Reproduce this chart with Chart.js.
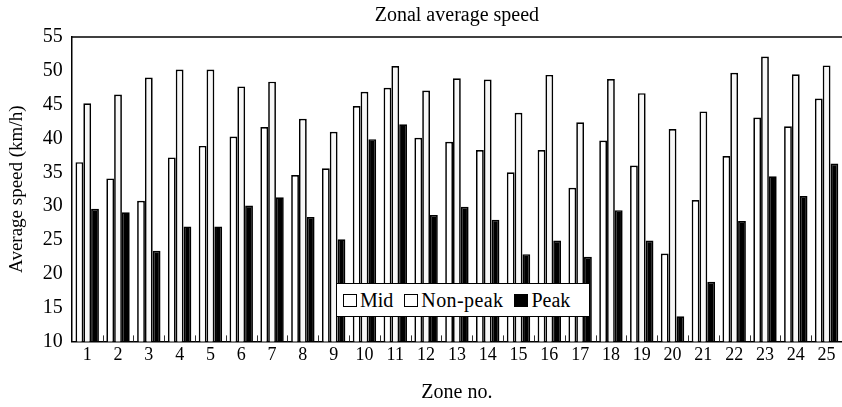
<!DOCTYPE html>
<html>
<head>
<meta charset="utf-8">
<script src="https://cdn.jsdelivr.net/npm/chart.js@4/dist/chart.umd.min.js"></script>
<style>
	html, body { margin: 0; padding: 0; background: #fff; }
	#wrap { position: relative; width: 842px; height: 407px; overflow: hidden; }
	#legendBox {
		position: absolute; left: 336px; top: 283px; width: 246px; height: 32px;
		background: #fff; border: 1.5px solid #000;
		font-family: "Liberation Serif", serif; font-size: 20px; color: #000;
		display: flex; align-items: center; padding-left: 6px; box-sizing: content-box; white-space: nowrap;
	}
	#legendBox span.sw { display: inline-block; width: 12px; height: 11px; border: 1.5px solid #000; margin-right: 3px; background: #fff; }
	#legendBox span.lb { margin-right: 11px; }
</style>
</head>
<body>
<div id="wrap">
	<canvas id="myChart" width="842" height="407"></canvas>
	<div id="legendBox"></div>
</div>
<script>
var zones = ['1','2','3','4','5','6','7','8','9','10','11','12','13','14','15','16','17','18','19','20','21','22','23','24','25'];
var midData = [36.5, 34.1, 30.8, 37.2, 38.9, 40.3, 41.7, 34.6, 35.6, 44.8, 47.5, 40.1, 39.5, 38.3, 35.0, 38.3, 32.7, 39.7, 36.0, 23.0, 30.9, 37.4, 43.1, 41.8, 45.9];
var nonPeakData = [45.2, 46.5, 49.0, 50.2, 50.2, 47.7, 48.4, 42.9, 41.0, 46.9, 50.7, 47.1, 48.9, 48.7, 43.8, 49.4, 42.4, 48.8, 46.7, 41.4, 44.0, 49.7, 52.1, 49.5, 50.8];
var peakData = [29.6, 29.1, 23.4, 27.0, 27.0, 30.1, 31.3, 28.4, 25.1, 39.9, 42.1, 28.7, 29.9, 28.0, 22.9, 24.9, 22.5, 29.4, 24.9, 13.7, 18.8, 27.8, 34.4, 31.5, 36.3];
var yTicks = [10, 15, 20, 25, 30, 35, 40, 45, 50, 55];
var seriesNames = ['Mid', 'Non-peak', 'Peak'];

var _font = '"Liberation Serif", "Times New Roman", serif';

// 안쪽 눈금, 위쪽 테두리
var framePlugin = {
	id: 'framePlugin',
	afterDraw: function(chart) {
		var ctx = chart.ctx;
		var area = chart.chartArea;
		var xs = chart.scales.x;
		ctx.save();
		ctx.strokeStyle = '#000';
		ctx.lineWidth = 1.5;
		ctx.beginPath();
		ctx.moveTo(area.left, area.top);
		ctx.lineTo(area.right, area.top);
		ctx.stroke();
		ctx.lineWidth = 1;
		ctx.strokeStyle = '#333';
		for (var i = 1; i < zones.length; i++) {
			var x = Math.round(xs.getPixelForValue(i - 0.5)) + 0.5;
			ctx.beginPath();
			ctx.moveTo(x, area.bottom);
			ctx.lineTo(x, area.bottom - 6);
			ctx.stroke();
		}
		ctx.restore();
	}
};

function renderLegendLabel() {
	var html = '';
	html += '<span class="sw"></span><span class="lb">' + seriesNames[0] + '</span>';
	html += '<span class="sw"></span><span class="lb" style="letter-spacing:0.4px;">' + seriesNames[1] + '</span>';
	html += '<span class="sw" style="background:#000;"></span><span>' + seriesNames[2] + '</span>';
	document.getElementById('legendBox').innerHTML = html;
}

var _config = {
	type: 'bar',
	data: {
		labels: zones,
		datasets: [
			{ label: seriesNames[0], data: midData, backgroundColor: '#ffffff', borderColor: '#000', borderWidth: 1.7 },
			{ label: seriesNames[1], data: nonPeakData, backgroundColor: '#f7f7f7', borderColor: '#000', borderWidth: 1.7 },
			{ label: seriesNames[2], data: peakData, backgroundColor: '#000000', borderColor: '#000', borderWidth: 1.7 }
		]
	},
	options: {
		responsive: false,
		animation: false,
		layout: { padding: { left: 0, right: -4, top: 0, bottom: 0 } },
		datasets: { bar: { categoryPercentage: 0.76, barPercentage: 1.0 } },
		plugins: {
			legend: { display: false },
			tooltip: { enabled: false },
			title: {
				display: true,
				fullSize: false,
				text: 'Zonal average speed',
				color: '#000',
				font: { family: _font, size: 20, weight: 'normal' },
				padding: { top: 4, bottom: 9 }
			}
		},
		scales: {
			x: {
				grid: { display: false, drawTicks: false },
				border: { display: true, color: '#000', width: 1.5 },
				ticks: { color: '#000', font: { family: _font, size: 18 }, padding: 3, maxRotation: 0, autoSkip: false },
				title: {
					display: true,
					text: 'Zone no.',
					color: '#000',
					font: { family: _font, size: 20 },
					padding: { top: 12, bottom: 2 }
				}
			},
			y: {
				min: 10,
				max: 55,
				afterBuildTicks: function(scale) {
					scale.ticks = yTicks.map(function(v) { return { value: v }; });
				},
				grid: { display: false, drawTicks: false },
				border: { display: true, color: '#000', width: 1.5 },
				ticks: { color: '#000', font: { family: _font, size: 20 }, padding: 9 },
				title: {
					display: true,
					text: 'Average speed (km/h)',
					color: '#000',
					font: { family: _font, size: 19 },
					padding: { top: 6, bottom: 5 }
				}
			}
		}
	},
	plugins: [framePlugin]
};

var myChart = new Chart(document.getElementById('myChart'), _config);
renderLegendLabel();
</script>
</body>
</html>
